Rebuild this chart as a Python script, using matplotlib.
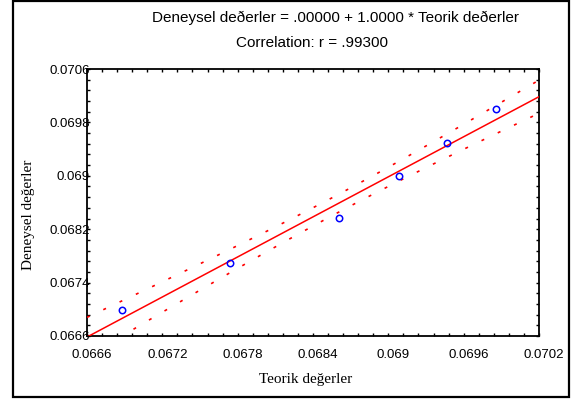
import numpy as np
import matplotlib
matplotlib.use("Agg")
import matplotlib.pyplot as plt
import matplotlib.transforms as mtransforms
from matplotlib.patches import Rectangle

# Data
teorik = [0.066876, 0.067737, 0.068607, 0.069087, 0.069465, 0.069856]
deneysel = [0.066985, 0.067694, 0.068372, 0.069002, 0.069487, 0.069996]
x_ticks = [0.0666, 0.0672, 0.0678, 0.0684, 0.0690, 0.0696, 0.0702]
x_ticklabels = ["0.0666", "0.0672", "0.0678", "0.0684", "0.069", "0.0696", "0.0702"]
y_ticks = [0.0666, 0.0674, 0.0682, 0.0690, 0.0698, 0.0706]
y_ticklabels = ["0.0666", "0.0674", "0.0682", "0.069", "0.0698", "0.0706"]
title1 = "Deneysel deðerler = .00000 + 1.0000 * Teorik deðerler"
title2 = "Correlation: r = .99300"
xlabel = "Teorik değerler"
ylabel = "Deneysel değerler"
t_value = 2.132

W, H = 578, 401
fig = plt.figure(figsize=(W / 100, H / 100), dpi=100)

def fx(px):
    return px / W

def fy(py):
    return 1 - py / H

L, R, T, B = 87, 539, 69, 336
ax = fig.add_axes([fx(L), fy(B), fx(R) - fx(L), fy(T) - fy(B)])

x = np.array(teorik)
y = np.array(deneysel)
slope, intercept = np.polyfit(x, y, 1)
n = len(x)
resid = y - (intercept + slope * x)
s = np.sqrt(np.sum(resid ** 2) / (n - 2))
sxx = np.sum((x - x.mean()) ** 2)

xs = np.linspace(x_ticks[0], x_ticks[-1], 300)
yfit = intercept + slope * xs
band = t_value * s * np.sqrt(1 / n + (xs - x.mean()) ** 2 / sxx)

red = "#ff0000"
ax.plot(xs, yfit, color=red, lw=1.1, zorder=3)
ax.plot(xs, yfit + band, color=red, lw=1.2, linestyle=(0, (1.8, 9)), zorder=3)
ax.plot(xs, yfit - band, color=red, lw=1.2, linestyle=(0, (1.8, 9)), zorder=3)
ax.plot(x, y, linestyle="none", marker="o", markersize=4.6, markerfacecolor="none",
        markeredgecolor="#0000ff", markeredgewidth=1.1, zorder=4)

ax.set_xlim(x_ticks[0], x_ticks[-1])
ax.set_ylim(y_ticks[0], y_ticks[-1])
ax.set_xticks(x_ticks)
ax.set_xticklabels(x_ticklabels)
ax.set_yticks(y_ticks)
ax.set_yticklabels(y_ticklabels)
xminor = np.linspace(x_ticks[0], x_ticks[-1], (len(x_ticks) - 1) * 5 + 1)
yminor = np.linspace(y_ticks[0], y_ticks[-1], (len(y_ticks) - 1) * 5 + 1)
ax.set_xticks(xminor, minor=True)
ax.set_yticks(yminor, minor=True)

for sp in ax.spines.values():
    sp.set_linewidth(1.3)

ax.tick_params(which="both", direction="in", top=True, right=True, length=2.5, width=1.0)
ax.tick_params(axis="x", which="major", pad=9, labelsize=9.5)
ax.tick_params(axis="y", which="major", pad=-2.2, labelsize=9.5)
for lab in ax.get_xticklabels() + ax.get_yticklabels():
    lab.set_fontfamily("Liberation Sans")

offset = mtransforms.ScaledTranslation(5 / 100, 0, fig.dpi_scale_trans)
for lab in ax.get_xticklabels():
    lab.set_transform(lab.get_transform() + offset)

fig.text(fx(336), fy(18), title1, ha="center", va="center",
         fontsize=11, family="Liberation Sans")
fig.text(fx(312.5), fy(43), title2, ha="center", va="center",
         fontsize=11, family="Liberation Sans")
fig.text(fx(305.5), fy(379), xlabel, ha="center", va="center",
         fontsize=11, family="Liberation Serif")
fig.text(fx(28.5), fy(214.5), ylabel, ha="center", va="center", rotation=90,
         fontsize=11, family="Liberation Serif")

fig.patches.append(Rectangle((fx(13), fy(397)), fx(569) - fx(13), fy(1) - fy(397),
                             transform=fig.transFigure, fill=False,
                             edgecolor="black", linewidth=1.6))

fig.savefig("out.png", dpi=100)
